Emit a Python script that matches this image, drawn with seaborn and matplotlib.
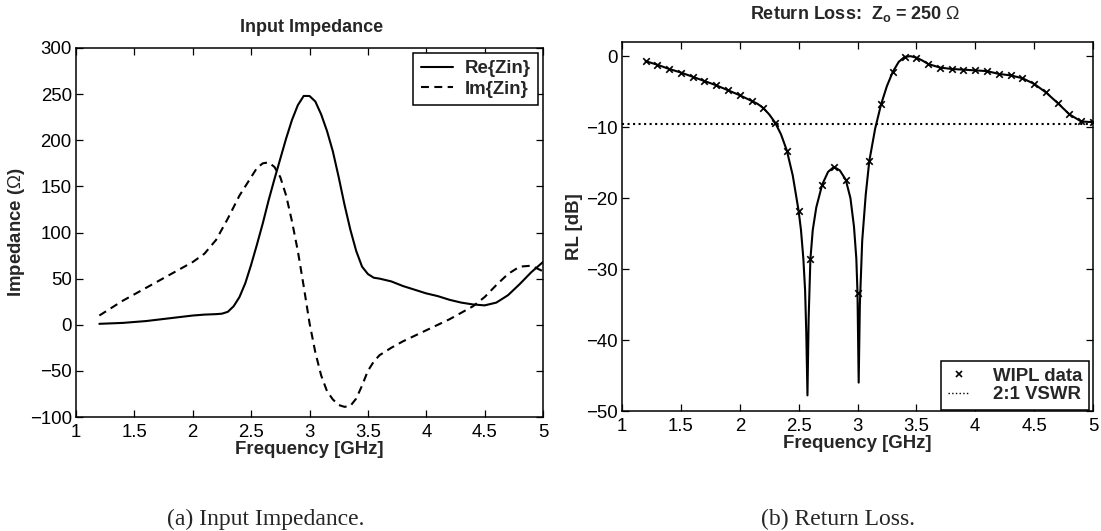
import numpy as np
import pandas as pd
import matplotlib
matplotlib.use("Agg")
import matplotlib.pyplot as plt
import seaborn as sns
from matplotlib.lines import Line2D

# ---------------- data ----------------
re_freq = [1.2, 1.4, 1.6, 1.8, 2.0, 2.1, 2.2, 2.25, 2.3, 2.35, 2.4, 2.45, 2.5, 2.55, 2.6,
           2.65, 2.7, 2.75, 2.8, 2.85, 2.9, 2.95, 3.0, 3.05, 3.1, 3.15, 3.2, 3.25, 3.3,
           3.35, 3.4, 3.45, 3.5, 3.55, 3.6, 3.7, 3.8, 3.9, 4.0, 4.1, 4.2, 4.3, 4.4, 4.5,
           4.6, 4.7, 4.8, 4.9, 5.0]
re_zin = [1, 2, 4, 7, 10, 11, 11.5, 12, 14, 20, 30, 45, 65, 87, 110,
          135, 158, 180, 202, 222, 238, 248, 248, 242, 228, 210, 188, 160, 130,
          103, 80, 63, 55, 51, 50, 47, 42, 38, 34, 31, 27, 24, 22, 21,
          24, 32, 44, 57, 68]

im_freq = [1.2, 1.4, 1.6, 1.8, 2.0, 2.1, 2.2, 2.3, 2.4, 2.5, 2.55, 2.6, 2.65, 2.7,
           2.75, 2.8, 2.85, 2.9, 2.95, 3.0, 3.05, 3.1, 3.15, 3.2, 3.25, 3.3, 3.35,
           3.4, 3.45, 3.5, 3.55, 3.6, 3.7, 3.8, 3.9, 4.0, 4.1, 4.2, 4.3, 4.4, 4.5,
           4.6, 4.7, 4.8, 4.9, 5.0]
im_zin = [10, 26, 40, 54, 68, 77, 92, 115, 140, 160, 170, 175, 176, 171,
          160, 140, 112, 80, 42, 2, -30, -55, -72, -81, -87, -89, -88,
          -80, -66, -50, -40, -33, -25, -18, -12, -6, 0, 6, 13, 20, 30,
          43, 55, 63, 64, 58]

wipl_freq = [1.2, 1.3, 1.4, 1.5, 1.6, 1.7, 1.8, 1.9, 2.0, 2.1, 2.2, 2.3, 2.4, 2.5,
             2.6, 2.7, 2.8, 2.9, 3.0, 3.1, 3.2, 3.3, 3.4, 3.5, 3.6, 3.7, 3.8, 3.9,
             4.0, 4.1, 4.2, 4.3, 4.4, 4.5, 4.6, 4.7, 4.8, 4.9, 5.0]
wipl_rl = [-0.7, -1.2, -1.8, -2.3, -2.9, -3.5, -4.1, -4.8, -5.5, -6.3, -7.3, -9.35,
           -13.3, -21.8, -28.6, -18.1, -15.6, -17.4, -33.4, -14.8, -6.8, -2.2, -0.1,
           -0.2, -1.1, -1.6, -1.8, -1.9, -2.0, -2.1, -2.5, -2.7, -3.1, -3.9, -5.1,
           -6.6, -8.2, -9.2, -9.3]

curve_freq = [1.2, 1.3, 1.4, 1.5, 1.6, 1.7, 1.8, 1.9, 2.0, 2.1, 2.15, 2.2, 2.25, 2.3,
              2.35, 2.4, 2.45, 2.5, 2.52, 2.54, 2.555, 2.565, 2.575, 2.585, 2.6, 2.62,
              2.65, 2.7, 2.75, 2.8, 2.85, 2.9, 2.94, 2.97, 2.99, 3.0, 3.01, 3.02, 3.04,
              3.07, 3.1, 3.15, 3.2, 3.25, 3.3, 3.35, 3.4, 3.45, 3.5, 3.55, 3.6, 3.7,
              3.8, 3.9, 4.0, 4.1, 4.2, 4.3, 4.4, 4.5, 4.6, 4.7, 4.8, 4.9, 5.0]
curve_rl = [-0.7, -1.2, -1.8, -2.3, -2.9, -3.5, -4.1, -4.8, -5.5, -6.3, -6.7, -7.3,
            -8.2, -9.35, -11.0, -13.3, -16.8, -21.8, -24.5, -28.5, -33.0, -39.0, -47.8,
            -37.0, -28.6, -24.5, -21.3, -18.1, -16.3, -15.6, -16.1, -17.4, -20.0,
            -24.0, -28.5, -33.4, -46.0, -35.0, -26.0, -19.5, -14.8, -10.2, -6.8, -4.2,
            -2.2, -0.8, -0.1, 0.0, -0.2, -0.6, -1.1, -1.6, -1.8, -1.9, -2.0, -2.1,
            -2.5, -2.7, -3.1, -3.9, -5.1, -6.6, -8.2, -9.2, -9.3]

vswr_rl = -9.54

x_ticks = [1, 1.5, 2, 2.5, 3, 3.5, 4, 4.5, 5]
x_ticklabels = ["1", "1.5", "2", "2.5", "3", "3.5", "4", "4.5", "5"]
zin_yticks = [-100, -50, 0, 50, 100, 150, 200, 250, 300]
rl_yticks = [-50, -40, -30, -20, -10, 0]

# ---------------- style ----------------
sns.set_theme(style="white")
plt.rcParams["font.family"] = ["Liberation Sans", "DejaVu Sans"]
plt.rcParams["mathtext.fontset"] = "custom"
plt.rcParams["mathtext.rm"] = "Liberation Sans"
plt.rcParams["mathtext.bf"] = "Liberation Sans:bold"
plt.rcParams["mathtext.it"] = "Liberation Sans:italic"
plt.rcParams["axes.unicode_minus"] = True

W, H = 1101, 531
fig = plt.figure(figsize=(W / 100, H / 100), dpi=100)


def box(x0, y0, x1, y1):
    return [x0 / W, 1 - y1 / H, (x1 - x0) / W, (y1 - y0) / H]


ax1 = fig.add_axes(box(76, 48, 543, 417))
ax2 = fig.add_axes(box(622, 42, 1093, 411))

lw = 1.5
FS = 13.4
TITLE_FS = 13.0

# ---- left panel ----
df_re = pd.DataFrame({"f": re_freq, "z": re_zin})
df_im = pd.DataFrame({"f": im_freq, "z": im_zin})
sns.lineplot(data=df_re, x="f", y="z", ax=ax1, color="black", linewidth=lw)
sns.lineplot(data=df_im, x="f", y="z", ax=ax1, color="black", linewidth=lw,
             dashes=False)
ax1.lines[-1].set_dashes((3.8, 2.6))

ax1.set_xlim(1, 5)
ax1.set_ylim(-100, 300)
ax1.set_xticks(x_ticks)
ax1.set_xticklabels(x_ticklabels)
ax1.set_yticks(zin_yticks)
ax1.set_yticklabels([f"{v:d}".replace("-", "\u2212") for v in zin_yticks])
ax1.set_xlabel("Frequency [GHz]", fontsize=FS, fontweight="bold", labelpad=0)
ax1.set_ylabel("Impedance ($\\Omega$)", fontsize=FS, fontweight="bold", labelpad=2)

h_re = Line2D([], [], color="black", linewidth=lw)
h_im = Line2D([], [], color="black", linewidth=lw, dashes=(3.8, 2.6))
leg1 = ax1.legend([h_re, h_im], ["Re{Zin}", "Im{Zin}"], loc="upper right",
                  bbox_to_anchor=(1 - 5 / 467, 1 - 5 / 369),
                  prop={"weight": "bold", "size": FS}, frameon=True,
                  fancybox=False, edgecolor="black", framealpha=1,
                  handlelength=1.75, handletextpad=0.6, borderpad=0.4,
                  labelspacing=0.18, borderaxespad=0)
leg1.get_frame().set_linewidth(1.1)

# ---- right panel ----
df_curve = pd.DataFrame({"f": curve_freq, "rl": curve_rl})
df_wipl = pd.DataFrame({"f": wipl_freq, "rl": wipl_rl})
sns.lineplot(data=df_curve, x="f", y="rl", ax=ax2, color="black", linewidth=lw)
sns.scatterplot(data=df_wipl, x="f", y="rl", ax=ax2, color="black", marker="x",
                s=22, linewidth=1.2, zorder=3)
ax2.axhline(vswr_rl, color="black", linestyle=":", linewidth=1.5)

ax2.set_xlim(1, 5)
ax2.set_ylim(-50, 2)
ax2.set_xticks(x_ticks)
ax2.set_xticklabels(x_ticklabels)
ax2.set_yticks(rl_yticks)
ax2.set_yticklabels([f"{v:d}".replace("-", "\u2212") for v in rl_yticks])
ax2.set_xlabel("Frequency [GHz]", fontsize=FS, fontweight="bold", labelpad=0)
ax2.set_ylabel("RL [dB]", fontsize=FS, fontweight="bold", labelpad=2)

h_w = Line2D([], [], color="black", marker="x", linestyle="none",
             markersize=4.5, markeredgewidth=1.2)
h_v = Line2D([], [], color="black", linestyle=":", linewidth=1.0)
leg2 = ax2.legend([h_w, h_v], ["WIPL data", "2:1 VSWR"], loc="lower right",
                  bbox_to_anchor=(1 - 4 / 471, 1 / 369),
                  prop={"weight": "bold", "size": FS}, frameon=True,
                  fancybox=False, edgecolor="black", framealpha=1,
                  handlelength=1.2, handletextpad=1.25, borderpad=0.35,
                  labelspacing=0.1, borderaxespad=0)
leg2.get_frame().set_linewidth(1.1)

for ax in (ax1, ax2):
    for s in ax.spines.values():
        s.set_visible(True)
        s.set_color("black")
        s.set_linewidth(1.1)
    ax.tick_params(direction="in", length=5, width=0.9, top=True, right=True,
                   bottom=True, left=True, labelsize=FS, colors="black")
    ax.tick_params(axis="x", pad=5)
    ax.tick_params(axis="y", pad=3)
    ax.set_facecolor("white")

# titles
fig.text(312 / W, 1 - 28 / H, "Input Impedance", ha="center", va="center",
         fontsize=TITLE_FS, fontweight="bold")
fig.text(855 / W, 1 - 14 / H,
         "Return Loss:  Z$_{\\mathbf{o}}$ = 250 $\\Omega$",
         ha="center", va="center", fontsize=TITLE_FS, fontweight="bold")

# captions
fig.text(167 / W, 1 - 519 / H, "(a) Input Impedance.", ha="left", va="center",
         fontsize=17, family=["Liberation Serif", "DejaVu Serif"])
fig.text(838 / W, 1 - 519 / H, "(b) Return Loss.", ha="center", va="center",
         fontsize=17, family=["Liberation Serif", "DejaVu Serif"])

fig.savefig("out.png", dpi=100, facecolor="white")
